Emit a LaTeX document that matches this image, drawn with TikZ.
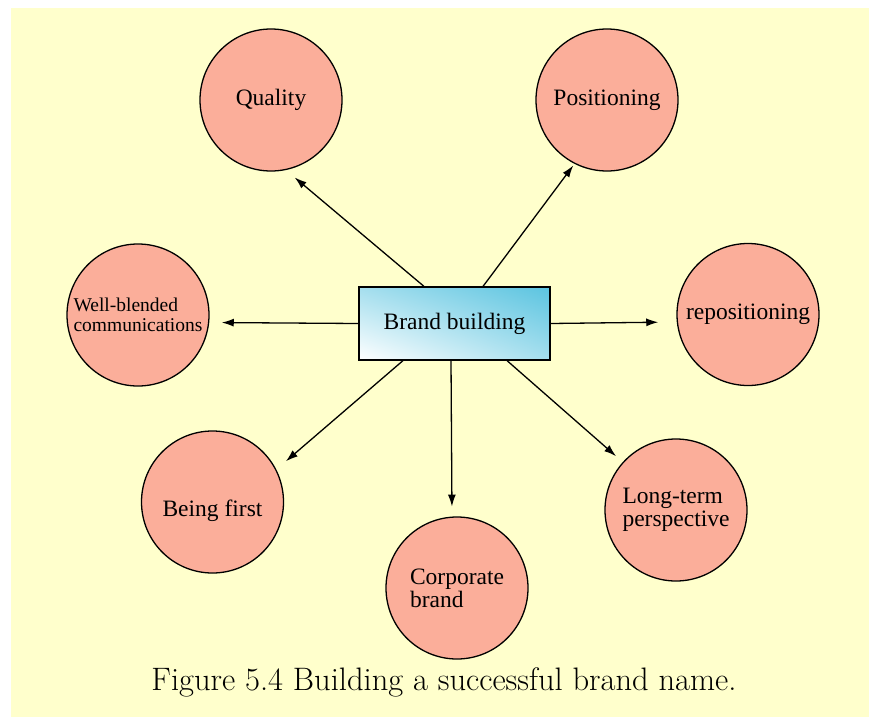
\documentclass[tikz,border=0pt]{standalone}
\usepackage{fontspec}
\usetikzlibrary{shapes,shadings,arrows.meta}
\newfontfamily\timesfont{Liberation Serif}
\definecolor{paper}{HTML}{FFFFCC}
\definecolor{salmon}{HTML}{FBAE9A}
\definecolor{skyblue}{HTML}{5BC4E0}
\tikzstyle{line} = [draw, line width=1.3pt, -{Latex[length=12pt,width=8pt]}]
\tikzstyle{topic} = [circle, draw, line width=1.3pt, fill=salmon, minimum size=142pt, inner sep=0pt, align=left, font=\timesfont\fontsize{23.5}{23}\selectfont]
\tikzstyle{core} = [rectangle, draw, line width=1.2pt, minimum width=191pt, minimum height=73pt, lower left=white, upper right=skyblue, upper left=skyblue!55!white, lower right=skyblue!55!white, font=\timesfont\fontsize{23.5}{23}\selectfont]

\begin{document}
\begin{tikzpicture}[x=1pt, y=-1pt]
	\useasboundingbox (0,0) rectangle (869,717);
	\fill [paper] (11,8) rectangle (869,717);
	\node [core] at (454.5,323.5) (brand) {Brand building};
	\node [topic] at (271,100) (quality) {Quality};
	\node [topic] at (607,100) (position) {Positioning};
	\node [topic, font=\timesfont\fontsize{19.5}{20}\selectfont] at (138,315) (blend) {Well-blended\\communications};
	\node [topic] at (748,314.5) (repos) {repositioning};
	\node [topic] at (212.5,502) (first) {\raisebox{-14.5pt}[0pt][0pt]{Being first}};
	\node [topic] at (457,588) (corporate) {Corporate\\brand};
	\node [topic] at (676,510) (longterm) {Long-term\\perspective};
	\node [font=\fontsize{32.5}{36}\selectfont] at (444,682) (caption) {Figure 5.4 Building a successful brand name.};
	\path [line, shorten >=11.5pt] ([xshift=-30.5pt]brand.north) -- (quality.-78.5);
	\path [line, shorten >=2pt] ([xshift=28.5pt]brand.north) -- (position.-117.1);
	\path [line, shorten >=12.5pt] (brand.west) -- (blend.-6.5);
	\path [line, shorten >=18.5pt] (brand.east) -- (repos.186.9);
	\path [line, shorten >=12.6pt] ([xshift=-51.5pt]brand.south) -- (first.27.5);
	\path [line, shorten >=10pt] ([xshift=-3.5pt]brand.south) -- (corporate.94.9);
	\path [line, shorten >=9pt] ([xshift=52.5pt]brand.south) -- (longterm.138.5);
\end{tikzpicture}
\end{document}
